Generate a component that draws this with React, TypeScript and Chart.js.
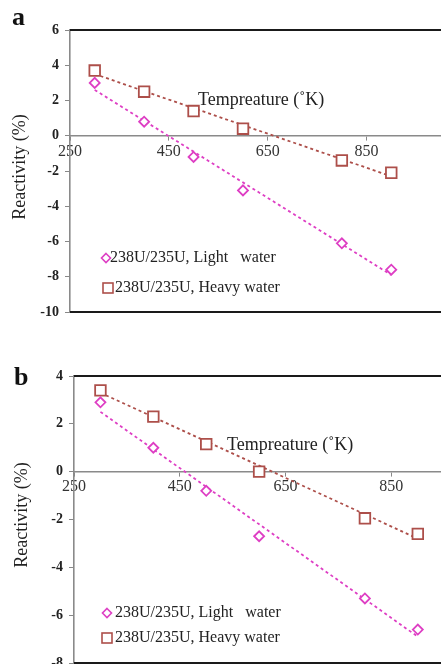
import React, { useEffect, useRef } from "react";
import { Chart, registerables } from "chart.js";

Chart.register(...registerables);

// ---- data ----
const xTicks = [250, 450, 650, 850];
const temperatureK = [300, 400, 500, 600, 800, 900];
const lightA = [3.0, 0.8, -1.2, -3.1, -6.1, -7.6];
const heavyA = [3.7, 2.5, 1.4, 0.4, -1.4, -2.1];
const lightB = [2.9, 1.0, -0.8, -2.7, -5.3, -6.6];
const heavyB = [3.4, 2.3, 1.15, 0.0, -1.95, -2.6];
const trendX = [300, 900];
const trendLightA = [2.6, -7.9];
const trendHeavyA = [3.5, -2.3];
const trendLightB = [2.5, -6.9];
const trendHeavyB = [3.3, -2.8];
const legendLight = "238U/235U, Light   water";
const legendHeavy = "238U/235U, Heavy water";
const xTitle = "Tempreature (˚K)";
const yTitle = "Reactivity (%)";

const PINK = "#de3fc4";
const BROWN = "#ad4f4a";
const SERIF = "'Liberation Serif', 'Times New Roman', serif";

type PanelCfg = {
  letter: string;
  top: number;
  width: number;
  height: number;
  padTop: number;
  padBottom: number;
  padRight: number;
  axisLeft: number;
  yMin: number;
  yMax: number;
  light: number[];
  heavy: number[];
  trendLight: number[];
  trendHeavy: number[];
  letterPos: [number, number];
  titlePos: [number, number];
  yTitlePos: [number, number];
  legendRows: [number, number, number, number][]; // markerX, markerY, textX, textY
};

const panels: PanelCfg[] = [
  {
    letter: "a",
    top: 0,
    width: 450,
    height: 330,
    padTop: 30,
    padBottom: 18,
    padRight: 3,
    axisLeft: 70,
    yMin: -10,
    yMax: 6,
    light: lightA,
    heavy: heavyA,
    trendLight: trendLightA,
    trendHeavy: trendHeavyA,
    letterPos: [12, 25],
    titlePos: [198, 100],
    yTitlePos: [20, 167],
    legendRows: [
      [106, 258, 110, 258],
      [108, 288, 115, 288],
    ],
  },
  {
    letter: "b",
    top: 340,
    width: 480,
    height: 340,
    padTop: 36,
    padBottom: 17,
    padRight: 2,
    axisLeft: 74,
    yMin: -8,
    yMax: 4,
    light: lightB,
    heavy: heavyB,
    trendLight: trendLightB,
    trendHeavy: trendHeavyB,
    letterPos: [14, 45],
    titlePos: [227, 105],
    yTitlePos: [22, 175],
    legendRows: [
      [107, 273, 115, 273],
      [107, 298, 115, 298],
    ],
  },
];

function diamond(ctx: CanvasRenderingContext2D, x: number, y: number, r: number) {
  ctx.beginPath();
  ctx.moveTo(x, y - r);
  ctx.lineTo(x + r, y);
  ctx.lineTo(x, y + r);
  ctx.lineTo(x - r, y);
  ctx.closePath();
}

function Panel({ cfg }: { cfg: PanelCfg }) {
  const ref = useRef<HTMLCanvasElement | null>(null);
  useEffect(() => {
    if (!ref.current) return;
    const extras = {
      id: "extras",
      afterDraw(chart: any) {
        const ctx = chart.ctx as CanvasRenderingContext2D;
        const ca = chart.chartArea;
        ctx.save();
        // frame lines top/bottom
        ctx.strokeStyle = "#1a1a1a";
        ctx.lineWidth = 2;
        ctx.beginPath();
        ctx.moveTo(ca.left, ca.top);
        ctx.lineTo(chart.width, ca.top);
        ctx.moveTo(ca.left, ca.bottom);
        ctx.lineTo(chart.width, ca.bottom);
        ctx.stroke();
        // panel letter
        ctx.fillStyle = "#111";
        ctx.font = `bold 26px ${SERIF}`;
        ctx.textBaseline = "alphabetic";
        ctx.textAlign = "left";
        ctx.fillText(cfg.letter, cfg.letterPos[0], cfg.letterPos[1]);
        // x title inside plot
        ctx.font = `18px ${SERIF}`;
        ctx.fillStyle = "#222";
        ctx.textBaseline = "middle";
        ctx.fillText(xTitle, cfg.titlePos[0], cfg.titlePos[1]);
        // y title
        ctx.save();
        ctx.translate(cfg.yTitlePos[0], cfg.yTitlePos[1]);
        ctx.rotate(-Math.PI / 2);
        ctx.textAlign = "center";
        ctx.font = `18px ${SERIF}`;
        ctx.fillText(yTitle, 0, 0);
        ctx.restore();
        // legend
        ctx.font = `16px ${SERIF}`;
        ctx.textAlign = "left";
        ctx.textBaseline = "middle";
        const [r1, r2] = cfg.legendRows;
        ctx.lineWidth = 1.6;
        ctx.strokeStyle = PINK;
        ctx.fillStyle = "#fff";
        diamond(ctx, r1[0], r1[1], 4.5);
        ctx.fill();
        ctx.stroke();
        ctx.strokeStyle = BROWN;
        ctx.strokeRect(r2[0] - 5, r2[1] - 5, 10, 10);
        ctx.fillStyle = "#222";
        ctx.fillText(legendLight, r1[2], r1[3]);
        ctx.fillText(legendHeavy, r2[2], r2[3]);
        ctx.restore();
      },
    };
    const toPts = (xs: number[], ys: number[]) => xs.map((x, i) => ({ x, y: ys[i] }));
    const chart = new Chart(ref.current, {
      type: "scatter",
      data: {
        datasets: [
          {
            data: toPts(trendX, cfg.trendLight),
            showLine: true,
            borderColor: PINK,
            borderWidth: 1.8,
            borderDash: [3, 3],
            pointRadius: 0,
            order: 3,
          },
          {
            data: toPts(trendX, cfg.trendHeavy),
            showLine: true,
            borderColor: BROWN,
            borderWidth: 1.8,
            borderDash: [3, 3],
            pointRadius: 0,
            order: 4,
          },
          {
            data: toPts(temperatureK, cfg.light),
            pointStyle: "rectRot",
            pointRadius: 5,
            borderColor: PINK,
            backgroundColor: "#fff",
            borderWidth: 1.8,
            order: 1,
          },
          {
            data: toPts(temperatureK, cfg.heavy),
            pointStyle: "rect",
            pointRadius: 7.5,
            borderColor: BROWN,
            backgroundColor: "#fff",
            borderWidth: 1.8,
            order: 2,
          },
        ],
      },
      options: {
        responsive: false,
        animation: false,
        devicePixelRatio: 1,
        layout: { padding: { top: cfg.padTop, bottom: cfg.padBottom, right: cfg.padRight, left: 0 } },
        plugins: { legend: { display: false }, tooltip: { enabled: false } },
        scales: {
          x: {
            type: "linear",
            position: { y: 0 } as any,
            min: 250,
            max: 1000,
            afterBuildTicks: (scale: any) => {
              scale.ticks = xTicks.map((v) => ({ value: v }));
            },
            grid: { drawOnChartArea: false, drawTicks: true, tickLength: 4, color: "#888" },
            border: { color: "#8a8a8a", width: 1.6 },
            ticks: {
              font: { family: SERIF, size: 16 },
              color: "#333",
              padding: 2,
              maxRotation: 0,
            },
          },
          y: {
            type: "linear",
            min: cfg.yMin,
            max: cfg.yMax,
            afterFit: (scale: any) => {
              scale.width = cfg.axisLeft;
            },
            grid: { drawOnChartArea: false, drawTicks: true, tickLength: 5, color: "#888" },
            border: { color: "#8a8a8a", width: 1.6 },
            ticks: {
              stepSize: 2,
              font: { family: SERIF, size: 14, weight: "bold" },
              color: "#222",
              padding: 6,
            },
          },
        },
      },
      plugins: [extras],
    });
    return () => chart.destroy();
  }, [cfg]);
  return (
    <canvas
      ref={ref}
      width={cfg.width}
      height={cfg.height}
      style={{ position: "absolute", left: 0, top: cfg.top, width: cfg.width, height: cfg.height }}
    />
  );
}

export default function App() {
  return (
    <div
      style={{
        position: "absolute",
        left: 0,
        top: 0,
        width: 441,
        height: 664,
        overflow: "hidden",
        background: "#fff",
      }}
    >
      {panels.map((p) => (
        <Panel key={p.letter} cfg={p} />
      ))}
    </div>
  );
}
